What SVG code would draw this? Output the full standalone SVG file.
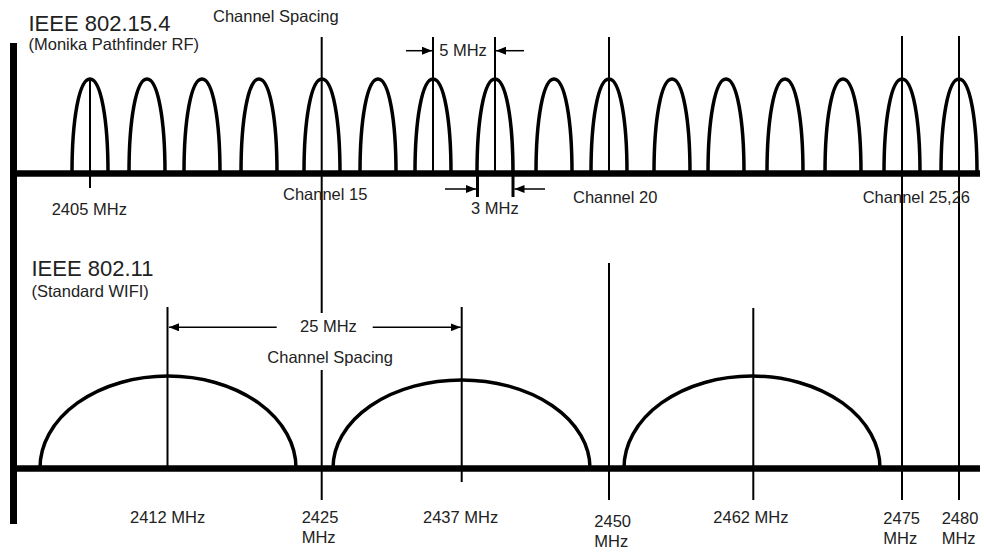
<svg xmlns="http://www.w3.org/2000/svg" width="984" height="554" viewBox="0 0 984 554">
<defs>
<style>
.t{font-family:"Liberation Sans",Arial,sans-serif;font-size:16.5px;fill:#222}
.big{font-size:22px}
.ax{stroke:#000;stroke-width:6.5;fill:none}
.arc{stroke:#000;stroke-width:3.5;fill:none}
.ln{stroke:#000;stroke-width:2;fill:none}
.ln3{stroke:#000;stroke-width:3;fill:none}
.ar{stroke:#000;stroke-width:1.5;fill:none;marker-end:url(#ah)}
</style>
<marker id="ah" markerUnits="userSpaceOnUse" markerWidth="11" markerHeight="8" refX="10" refY="4" orient="auto">
<path d="M0,0 L10,4 L0,8 z" fill="#000"/>
</marker>
<path id="sa" d="M-18,173 C-18,120 -11,79 0,79 C11,79 18,120 18,173"/>
</defs>
<rect width="984" height="554" fill="#fff"/>

<g id="axes">
<line class="ax" x1="13.5" y1="43" x2="13.5" y2="524" style="stroke-width:7"/>
<line class="ax" x1="10" y1="173.5" x2="980" y2="173.5"/>
<line class="ax" x1="10" y1="468.5" x2="980" y2="468.5"/>
</g>

<g id="zigbee-channels">
<use href="#sa" class="arc" x="90"/>
<use href="#sa" class="arc" x="147"/>
<use href="#sa" class="arc" x="202"/>
<use href="#sa" class="arc" x="259"/>
<use href="#sa" class="arc" x="322"/>
<use href="#sa" class="arc" x="378"/>
<use href="#sa" class="arc" x="433"/>
<use href="#sa" class="arc" x="495"/>
<use href="#sa" class="arc" x="554"/>
<use href="#sa" class="arc" x="609"/>
<use href="#sa" class="arc" x="672"/>
<use href="#sa" class="arc" x="726"/>
<use href="#sa" class="arc" x="785"/>
<use href="#sa" class="arc" x="843"/>
<use href="#sa" class="arc" x="902"/>
<use href="#sa" class="arc" x="959"/>
</g>

<g id="wifi-channels">
<path class="arc" d="M40,468 A128,92 0 0 1 296,468"/>
<path class="arc" d="M333,468 A128.5,88 0 0 1 590,468"/>
<path class="arc" d="M624,468 A128,92 0 0 1 880,468"/>
</g>

<g id="connectors">
<line class="ln" x1="90" y1="80" x2="90" y2="188"/>
<line class="ln" x1="321.7" y1="37" x2="321.7" y2="313"/>
<line class="ln" x1="321.7" y1="370" x2="321.7" y2="500"/>
<line class="ln" x1="433" y1="37" x2="433" y2="173"/>
<line class="ln" x1="495" y1="37" x2="495" y2="173"/>
<line class="ln3" x1="477.5" y1="173" x2="477.5" y2="197"/>
<line class="ln3" x1="513" y1="173" x2="513" y2="197"/>
<line class="ln" x1="609" y1="37" x2="609" y2="173"/>
<line class="ln" x1="609" y1="263" x2="609" y2="500"/>
<line class="ln" x1="902" y1="36" x2="902" y2="500"/>
<line class="ln" x1="959" y1="36" x2="959" y2="500"/>
<line class="ln" x1="167.5" y1="307" x2="167.5" y2="471"/>
<line class="ln" x1="461.7" y1="307" x2="461.7" y2="482"/>
<line class="ln" x1="753.3" y1="308" x2="753.3" y2="500"/>
<line class="ar" x1="406" y1="50.7" x2="432" y2="50.7"/>
<line class="ar" x1="524" y1="50.7" x2="496" y2="50.7"/>
<line class="ar" x1="445" y1="189" x2="476" y2="189"/>
<line class="ar" x1="545" y1="189" x2="514.5" y2="189"/>
<line class="ar" x1="276.7" y1="327.3" x2="169" y2="327.3"/>
<line class="ar" x1="372.7" y1="327.3" x2="460.7" y2="327.3"/>
</g>

<g id="labels">
<text class="t big" x="28.5" y="31">IEEE 802.15.4</text>
<text class="t" x="28.5" y="50">(Monika Pathfinder RF)</text>
<text class="t" x="213" y="22">Channel Spacing</text>
<text class="t" x="463" y="56" text-anchor="middle">5 MHz</text>
<text class="t" x="51.7" y="215">2405 MHz</text>
<text class="t" x="283" y="200">Channel 15</text>
<text class="t" x="471" y="214">3 MHz</text>
<text class="t" x="573" y="203">Channel 20</text>
<text class="t" x="862.7" y="203">Channel 25,26</text>
<text class="t big" x="31.5" y="276">IEEE 802.11</text>
<text class="t" x="31.5" y="297">(Standard WIFI)</text>
<text class="t" x="300" y="331.7">25 MHz</text>
<text class="t" x="267.3" y="363">Channel Spacing</text>
<text class="t" x="130" y="523">2412 MHz</text>
<text class="t" x="301.7" y="523">2425</text>
<text class="t" x="301.7" y="543.3">MHz</text>
<text class="t" x="423" y="523">2437 MHz</text>
<text class="t" x="594.3" y="527">2450</text>
<text class="t" x="594.3" y="547.3">MHz</text>
<text class="t" x="713.3" y="523.3">2462 MHz</text>
<text class="t" x="883.3" y="524">2475</text>
<text class="t" x="883.3" y="544">MHz</text>
<text class="t" x="941.7" y="524">2480</text>
<text class="t" x="941.7" y="544">MHz</text>
</g>
</svg>
